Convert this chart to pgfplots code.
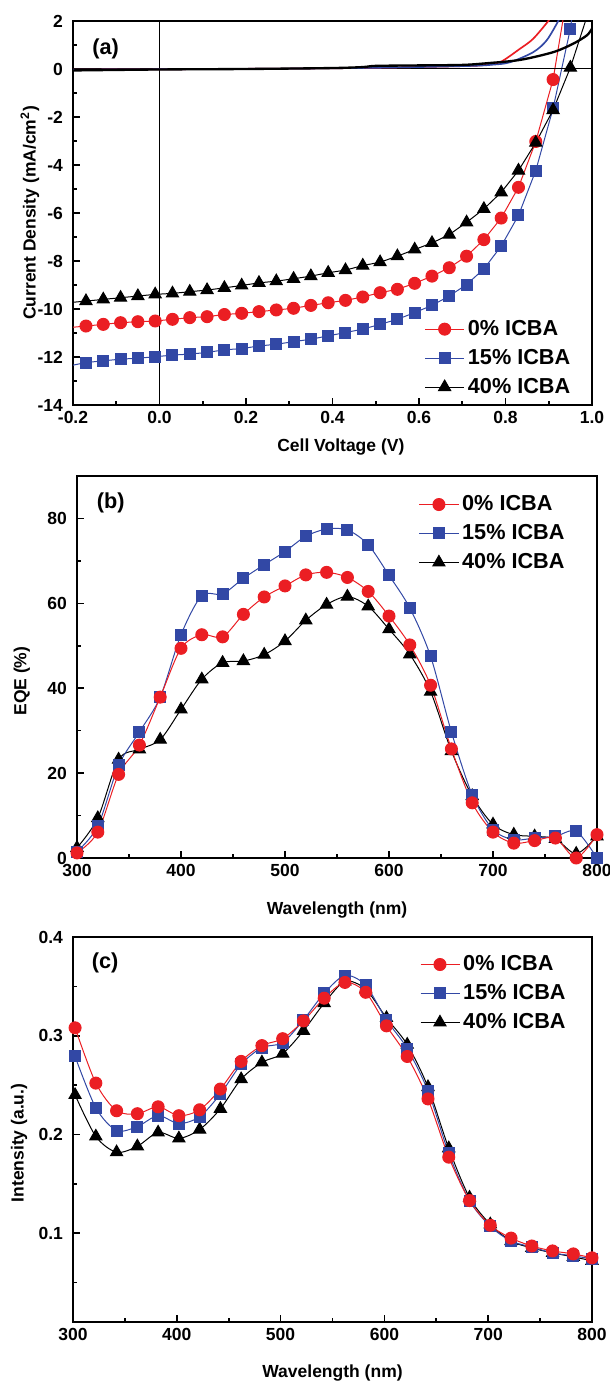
\documentclass[border=0pt]{standalone}
\usepackage{fontspec}
\setmainfont{Liberation Sans}
\usepackage{pgfplots}
\pgfplotsset{compat=1.18}
\definecolor{cred}{RGB}{235,30,35}
\definecolor{cblue}{RGB}{50,72,165}

\pgfplotsset{
  panel/.style={
    scale only axis,
    anchor=north west,
    axis line style={line width=1pt},
    tick align=inside, tick pos=left,
    major tick length=4pt, minor tick length=2.4pt,
    every tick/.style={black, line width=1pt},
    tick label style={font=\bfseries\fontsize{10.5}{12}\selectfont},
    yticklabel style={xshift=-2.5pt},
    label style={font=\bfseries\fontsize{10.5}{12}\selectfont},
    legend style={draw=none, fill=none, anchor=north west,
      font=\bfseries\fontsize{13}{15}\selectfont, row sep=2.8pt, inner sep=0pt},
    legend cell align=left,
    legend image code/.code={\draw[mark repeat=2,mark phase=2]
      plot coordinates {(0cm,0cm)(0.41cm,0cm)(0.82cm,0cm)};},
  },
  s0/.style={cred, line width=0.6pt, mark=*, mark size=3.6pt,
    mark options={fill=cred, draw=cred}},
  s15/.style={cblue, line width=0.6pt, mark=square*, mark size=3.3pt,
    mark options={fill=cblue, draw=cblue}},
  s40/.style={black, line width=0.6pt, mark=triangle*, mark size=4.2pt,
    mark options={fill=black}},
}

\begin{document}
\begin{tikzpicture}

% (a) J-V curves
\begin{axis}[panel,
  at={(43.8pt,-12.6pt)}, width=311.4pt, height=230.4pt,
  xmin=-0.2, xmax=1.0, ymin=-14, ymax=2,
  xtick={-0.2,0,0.2,0.4,0.6,0.8,1.0},
  xticklabels={-0.2,0.0,0.2,0.4,0.6,0.8,1.0},
  minor xtick={-0.1,0.1,0.3,0.5,0.7,0.9},
  ytick={-14,-12,-10,-8,-6,-4,-2,0,2},
  yticklabels={-14,-12,-10,-8,-6,-4,-2,0,2},
  minor ytick={-13,-11,-9,-7,-5,-3,-1,1},
  xlabel={Cell Voltage (V)},
  ylabel={Current Density (mA/cm\textsuperscript{2})},
  xlabel style={at={(axis description cs:0.516,-0.109)}, anchor=center},
  ylabel style={at={(axis description cs:-0.083,0.5)}, anchor=center, rotate=0},
  legend style={at={(rel axis cs:0.677,0.23)}},
]
\addplot[s0] coordinates {(-0.17,-10.71)(-0.13,-10.64)(-0.09,-10.57)(-0.05,-10.53)(-0.01,-10.50)(0.03,-10.43)(0.07,-10.36)(0.11,-10.32)(0.15,-10.23)(0.19,-10.18)(0.23,-10.11)(0.27,-10.04)(0.31,-9.97)(0.35,-9.85)(0.39,-9.74)(0.43,-9.64)(0.47,-9.50)(0.51,-9.32)(0.55,-9.18)(0.59,-8.93)(0.63,-8.63)(0.67,-8.28)(0.71,-7.80)(0.75,-7.11)(0.79,-6.21)(0.83,-4.93)(0.87,-3.02)(0.91,-0.44)};
\addplot[s15] coordinates {(-0.17,-12.23)(-0.13,-12.16)(-0.09,-12.09)(-0.05,-12.05)(-0.01,-11.99)(0.03,-11.92)(0.07,-11.88)(0.11,-11.81)(0.15,-11.70)(0.19,-11.65)(0.23,-11.54)(0.27,-11.47)(0.31,-11.36)(0.35,-11.26)(0.39,-11.12)(0.43,-10.98)(0.47,-10.84)(0.51,-10.64)(0.55,-10.43)(0.59,-10.15)(0.63,-9.85)(0.67,-9.46)(0.71,-8.98)(0.75,-8.33)(0.79,-7.38)(0.83,-6.10)(0.87,-4.23)(0.91,-1.64)(0.95,1.68)};
\addplot[s40] coordinates {(-0.17,-9.67)(-0.13,-9.60)(-0.09,-9.53)(-0.05,-9.46)(-0.01,-9.39)(0.03,-9.35)(0.07,-9.28)(0.11,-9.21)(0.15,-9.12)(0.19,-9.02)(0.23,-8.91)(0.27,-8.84)(0.31,-8.74)(0.35,-8.63)(0.39,-8.49)(0.43,-8.38)(0.47,-8.19)(0.51,-8.05)(0.55,-7.80)(0.59,-7.52)(0.63,-7.25)(0.67,-6.90)(0.71,-6.39)(0.75,-5.83)(0.79,-5.14)(0.83,-4.23)(0.87,-3.07)(0.91,-1.71)(0.95,0.06)};
\legend{0\% ICBA, 15\% ICBA, 40\% ICBA}
% ends of the illuminated curves, beyond the markers
\addplot[cred, line width=0.6pt, forget plot] coordinates {(-0.2,-10.76)(-0.17,-10.71)};
\addplot[cred, line width=0.6pt, forget plot] coordinates {(0.91,-0.44)(0.938,2.6)};
\addplot[cblue, line width=0.6pt, forget plot] coordinates {(-0.2,-12.34)(-0.17,-12.23)};
\addplot[cblue, line width=0.6pt, forget plot] coordinates {(0.95,1.68)(0.957,2.6)};
\addplot[black, line width=0.6pt, forget plot] coordinates {(-0.2,-9.72)(-0.17,-9.67)};
\addplot[black, line width=0.6pt, forget plot] coordinates {(0.95,0.06)(0.985,2.0)(0.99,2.3)};
% zero lines
\addplot[black, line width=0.6pt, forget plot] coordinates {(0,-14)(0,2)};
\addplot[black, line width=0.6pt, forget plot] coordinates {(-0.2,0)(1.0,0)};
% dark curves
\addplot[cred, line width=1pt, smooth, forget plot] coordinates {(-0.2,-0.03)(0.4,0.03)(0.7,0.12)(0.75,0.17)(0.787,0.28)(0.834,0.85)(0.864,1.26)(0.899,2.0)(0.91,2.3)};
\addplot[cblue, line width=1pt, smooth, forget plot] coordinates {(-0.2,-0.03)(0.4,0.03)(0.7,0.12)(0.77,0.18)(0.81,0.28)(0.864,0.70)(0.895,1.19)(0.922,2.0)(0.93,2.3)};
\addplot[black, line width=1.4pt, smooth, forget plot] coordinates {(-0.2,-0.06)(0.0,-0.02)(0.2,0.0)(0.4,0.04)(0.47,0.08)(0.5,0.13)(0.6,0.15)(0.7,0.17)(0.757,0.24)(0.834,0.38)(0.91,0.70)(0.956,1.05)(0.988,1.40)(1.0,1.68)};
\node[font=\bfseries\fontsize{13}{15}\selectfont] at (rel axis cs:0.063,0.928) {(a)};
\end{axis}

% (b) EQE
\begin{axis}[panel,
  at={(46.2pt,-285.6pt)}, width=312pt, height=229.2pt,
  xmin=300, xmax=800, ymin=0, ymax=90,
  xtick={300,400,500,600,700,800},
  xticklabels={300,400,500,600,700,800},
  minor xtick={350,450,550,650,750},
  ytick={0,20,40,60,80},
  yticklabels={0,20,40,60,80},
  minor ytick={10,30,50,70},
  xlabel={Wavelength (nm)},
  ylabel={EQE (\%)},
  xlabel style={at={(axis description cs:0.5,-0.135)}, anchor=center},
  ylabel style={at={(axis description cs:-0.106,0.463)}, anchor=center, rotate=0},
  legend style={at={(rel axis cs:0.657,0.958)}},
  reverse legend,
]
\addplot[s40, smooth] coordinates {(300,2.4)(320,9.4)(340,23.2)(360,25.6)(380,27.9)(400,35.0)(420,42.1)(440,46.0)(460,46.4)(480,47.9)(500,51.1)(520,56.0)(540,59.7)(560,61.6)(580,59.3)(600,53.9)(620,48.0)(640,39.2)(660,25.2)(680,14.6)(700,7.9)(720,5.5)(740,5.1)(760,4.5)(780,1.0)(800,5.1)};
\addplot[s15, smooth] coordinates {(300,1.5)(320,7.5)(340,21.8)(360,29.7)(380,37.9)(400,52.6)(420,61.8)(440,62.2)(460,65.9)(480,69.1)(500,72.2)(520,75.8)(540,77.5)(560,77.3)(580,73.8)(600,66.6)(620,58.9)(640,47.5)(660,29.7)(680,14.9)(700,6.7)(720,4.3)(740,4.7)(760,5.1)(780,6.3)(800,0)};
\addplot[s0, smooth] coordinates {(300,1.2)(320,6.1)(340,19.7)(360,26.6)(380,37.9)(400,49.4)(420,52.6)(440,52.1)(460,57.4)(480,61.5)(500,64.1)(520,66.7)(540,67.3)(560,66.1)(580,62.8)(600,57.0)(620,50.2)(640,40.7)(660,25.7)(680,13.0)(700,6.1)(720,3.5)(740,4.1)(760,4.7)(780,0)(800,5.5)};
\legend{40\% ICBA, 15\% ICBA, 0\% ICBA}
\node[font=\bfseries\fontsize{13}{15}\selectfont] at (rel axis cs:0.065,0.93) {(b)};
\end{axis}

% (c) absorption
\begin{axis}[panel,
  at={(43.8pt,-562.2pt)}, width=311.4pt, height=231pt,
  xmin=300, xmax=800, ymin=0.01, ymax=0.4,
  xtick={300,400,500,600,700,800},
  xticklabels={300,400,500,600,700,800},
  minor xtick={350,450,550,650,750},
  ytick={0.1,0.2,0.3,0.4},
  yticklabels={0.1,0.2,0.3,0.4},
  minor ytick={0.05,0.15,0.25,0.35},
  xlabel={Wavelength (nm)},
  ylabel={Intensity (a.u.)},
  xlabel style={at={(axis description cs:0.5,-0.132)}, anchor=center},
  ylabel style={at={(axis description cs:-0.104,0.465)}, anchor=center, rotate=0},
  legend style={at={(rel axis cs:0.668,0.961)}},
  reverse legend,
]
\addplot[s40, smooth] coordinates {(302,0.240)(322,0.198)(342,0.182)(362,0.188)(382,0.202)(402,0.196)(422,0.205)(442,0.226)(462,0.256)(482,0.273)(502,0.282)(522,0.305)(542,0.333)(562,0.355)(582,0.347)(602,0.318)(622,0.291)(642,0.248)(662,0.186)(682,0.136)(702,0.109)(722,0.092)(742,0.085)(762,0.080)(782,0.076)(800,0.072)};
\addplot[s15, smooth] coordinates {(302,0.279)(322,0.227)(342,0.204)(362,0.208)(382,0.219)(402,0.211)(422,0.218)(442,0.241)(462,0.271)(482,0.288)(502,0.293)(522,0.316)(542,0.343)(562,0.361)(582,0.351)(602,0.316)(622,0.287)(642,0.244)(662,0.181)(682,0.133)(702,0.107)(722,0.092)(742,0.086)(762,0.080)(782,0.077)(800,0.074)};
\addplot[s0, smooth] coordinates {(302,0.308)(322,0.252)(342,0.224)(362,0.221)(382,0.228)(402,0.219)(422,0.225)(442,0.246)(462,0.274)(482,0.290)(502,0.297)(522,0.315)(542,0.338)(562,0.354)(582,0.344)(602,0.310)(622,0.279)(642,0.236)(662,0.177)(682,0.133)(702,0.108)(722,0.095)(742,0.087)(762,0.082)(782,0.079)(800,0.075)};
\legend{40\% ICBA, 15\% ICBA, 0\% ICBA}
\node[font=\bfseries\fontsize{13}{15}\selectfont] at (rel axis cs:0.062,0.932) {(c)};
\end{axis}

\pgfresetboundingbox
\path[use as bounding box] (0pt,0pt) rectangle (366pt,-831.6pt);
\end{tikzpicture}
\end{document}
